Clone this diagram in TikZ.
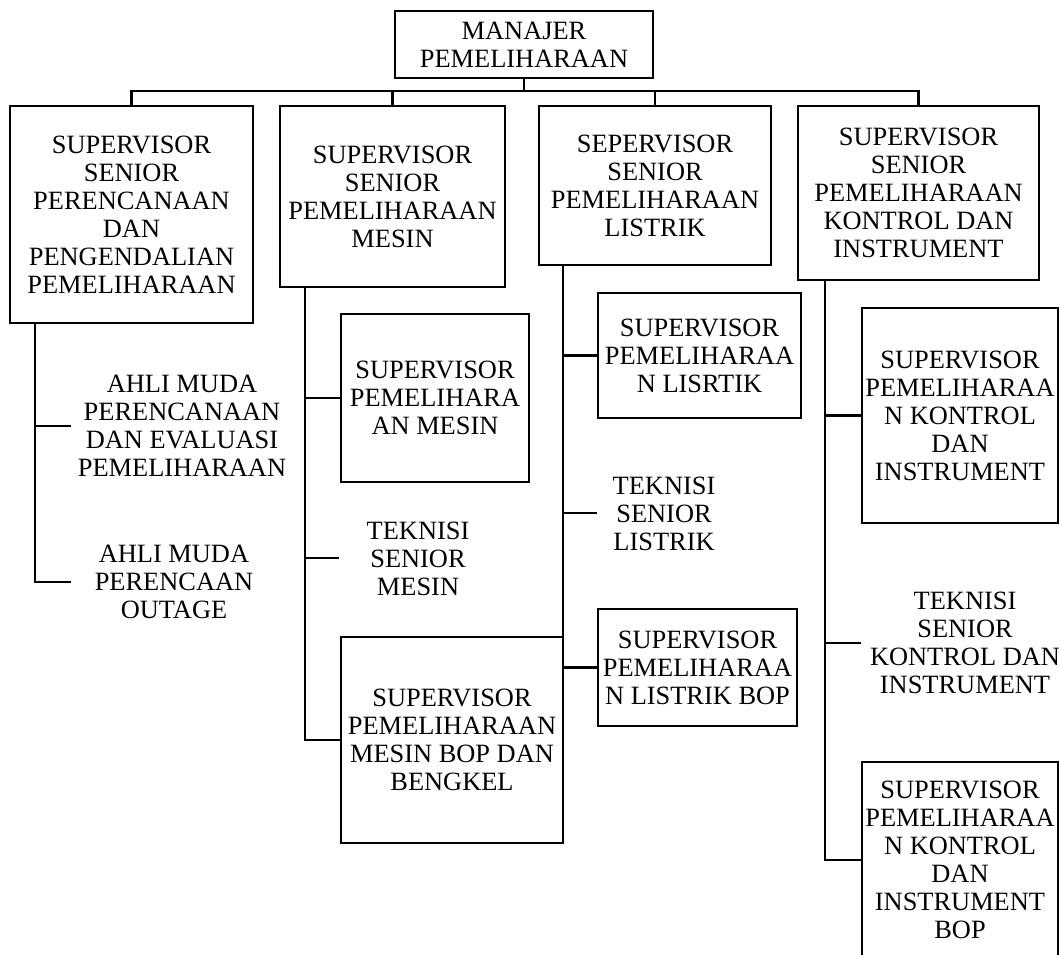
\documentclass[tikz,border=0pt]{standalone}
\usepackage{fontspec}
\setmainfont{Liberation Serif}
\begin{document}
\begin{tikzpicture}[x=1pt,y=-1pt,
  box/.style={draw,line width=2.9pt,inner sep=0pt,align=center,anchor=center},
  lbl/.style={inner sep=0pt,align=center,anchor=center},
  conn/.style={line width=2.9pt},
  every node/.append style={font=\fontsize{26.4}{28}\selectfont}]
\useasboundingbox (0,0) rectangle (1059,954);
\fill[white] (0,0) rectangle (1059,954);
\clip (0,0) rectangle (1059,954);

% top
\node[box,minimum width=258,minimum height=67] (m) at (524,44.5) {MANAJER\\PEMELIHARAAN};

% level 1
\node[box,minimum width=243,minimum height=217] (b1) at (131.5,214.5) {SUPERVISOR\\SENIOR\\PERENCANAAN\\DAN\\PENGENDALIAN\\PEMELIHARAAN};
\node[box,minimum width=225,minimum height=181] (b2) at (392.5,196.5) {SUPERVISOR\\SENIOR\\PEMELIHARAAN\\MESIN};
\node[box,minimum width=232,minimum height=159] (b3) at (655,185.5) {SEPERVISOR\\SENIOR\\PEMELIHARAAN\\LISTRIK};
\node[box,minimum width=241,minimum height=174] (b4) at (918.5,193) {SUPERVISOR\\SENIOR\\PEMELIHARAAN\\KONTROL DAN\\INSTRUMENT};

% column 1
\node[lbl] (a1) at (182,425.5) {AHLI MUDA\\PERENCANAAN\\DAN EVALUASI\\PEMELIHARAAN};
\node[lbl] (a2) at (174,582) {AHLI MUDA\\PERENCAAN\\OUTAGE};

% column 2
\node[box,minimum width=188,minimum height=168] (s2a) at (435,398) {SUPERVISOR\\PEMELIHARA\\AN MESIN};
\node[lbl] (s2b) at (418,559) {TEKNISI\\SENIOR\\MESIN};
\node[box,minimum width=222,minimum height=206] (s2c) at (452,740) {SUPERVISOR\\PEMELIHARAAN\\MESIN BOP DAN\\BENGKEL};

% column 3
\node[box,minimum width=203,minimum height=125] (s3a) at (699.5,355.5) {SUPERVISOR\\PEMELIHARAA\\N LISRTIK};
\node[lbl] (s3b) at (664,513.5) {TEKNISI\\SENIOR\\LISTRIK};
\node[box,minimum width=199,minimum height=117] (s3c) at (697.5,667.5) {SUPERVISOR\\PEMELIHARAA\\N LISTRIK BOP};

% column 4
\node[box,minimum width=196,minimum height=215] (s4a) at (960,415.5) {SUPERVISOR\\PEMELIHARAA\\N KONTROL\\DAN\\INSTRUMENT};
\node[lbl] (s4b) at (965,643) {TEKNISI\\SENIOR\\KONTROL DAN\\INSTRUMENT};
\node[box,minimum width=196,minimum height=196] (s4c) at (960,860) {SUPERVISOR\\PEMELIHARAA\\N KONTROL\\DAN\\INSTRUMENT\\BOP};

% coordinates
\coordinate (bus) at (524,91);
\coordinate (t1) at (35,0);
\coordinate (t2) at (305,0);
\coordinate (t3) at (563,0);
\coordinate (t4) at (825,0);
\coordinate (e1) at (71,426);
\coordinate (e2) at (71,582);
\coordinate (e3) at (339,558);
\coordinate (e4) at (597,513);
\coordinate (e5) at (861,643);

% top connectors
\draw[conn] (m.south) -- (bus);
\draw[conn] (b1.north) |- (bus) -| (b4.north);
\draw[conn] (b2.north) -- (b2.north |- bus);
\draw[conn] (b3.north) -- (b3.north |- bus);

% column 1
\draw[conn] (t1 |- b1.south) |- (e2);
\draw[conn] (t1 |- e1) -- (e1);

% column 2
\draw[conn] (t2 |- b2.south) |- (s2c.west);
\draw[conn] (t2 |- s2a.west) -- (s2a.west);
\draw[conn] (t2 |- e3) -- (e3);

% column 3
\draw[conn] (t3 |- b3.south) |- (s3c.west);
\draw[conn] (t3 |- s3a.west) -- (s3a.west);
\draw[conn] (t3 |- e4) -- (e4);

% column 4
\draw[conn] (t4 |- b4.south) |- (s4c.west);
\draw[conn] (t4 |- s4a.west) -- (s4a.west);
\draw[conn] (t4 |- e5) -- (e5);
\end{tikzpicture}
\end{document}
